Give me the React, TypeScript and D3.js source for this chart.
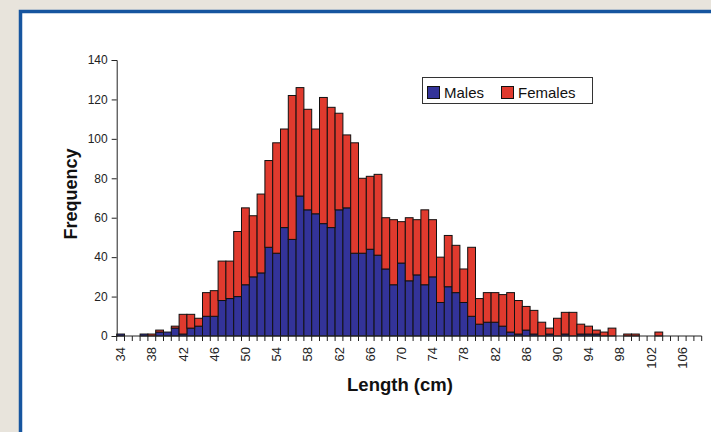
import React, { useRef, useEffect } from 'react'
import * as d3 from 'd3'

// length classes (cm), one bar each
const lengths: number[] = d3.range(34, 109)

const males: number[] = [
  1, 0, 0, 1, 0, 2, 2, 4, 1, 4,
  5, 10, 10, 18, 19, 20, 26, 30, 32, 45,
  42, 55, 49, 71, 64, 62, 57, 55, 64, 65,
  42, 42, 44, 41, 34, 26, 37, 28, 31, 26,
  30, 17, 25, 22, 17, 10, 6, 7, 7, 5,
  2, 1, 3, 1, 0, 1, 0, 1, 0, 1,
  1, 1, 0, 0, 0, 0, 0, 0, 0, 0,
  0, 0, 0, 0, 0
]

const females: number[] = [
  0, 0, 0, 0, 1, 1, 0, 1, 10, 7,
  4, 12, 13, 20, 19, 33, 39, 31, 40, 44,
  56, 50, 73, 55, 51, 43, 64, 61, 49, 37,
  56, 38, 37, 41, 26, 33, 21, 32, 28, 38,
  29, 23, 26, 24, 17, 35, 13, 15, 15, 16,
  20, 17, 12, 12, 7, 3, 9, 11, 12, 5,
  4, 2, 2, 4, 0, 1, 1, 0, 0, 2,
  0, 0, 0, 0, 0
]

const yTicks: number[] = [0, 20, 40, 60, 80, 100, 120, 140]
const xLabels: number[] = d3.range(34, 107, 4)

const seriesNames = ['Males', 'Females']
const colors = ['#333399', '#e03a2e']

const W = 711
const H = 432
const font = '"Liberation Sans", Arial, Helvetica, sans-serif'

function App() {
  const ref = useRef<SVGSVGElement>(null)

  useEffect(() => {
    const svg = d3.select(ref.current)
    svg.selectAll('*').remove()

    // backdrop + framed panel
    svg.append('rect').attr('width', W).attr('height', H).attr('fill', '#e8e4dc')
    svg.append('rect')
      .attr('x', 20.5).attr('y', 11.5)
      .attr('width', W + 20).attr('height', H + 20)
      .attr('fill', '#fff')
      .attr('stroke', '#16559f')
      .attr('stroke-width', 3.5)

    const x = d3.scaleBand<number>()
      .domain(lengths)
      .range([116.7, 701.7])
      .padding(0)

    const y = d3.scaleLinear()
      .domain([0, 140])
      .range([336, 60])

    const table = lengths.map((L, i) => ({ L, Males: males[i], Females: females[i] }))
    const stacked = d3.stack<any>().keys(seriesNames)(table)

    const g = svg.append('g')

    stacked.forEach((layer, k) => {
      g.append('g')
        .selectAll('rect')
        .data(layer.filter(d => d[1] - d[0] > 0))
        .join('rect')
        .attr('x', d => x(d.data.L)!)
        .attr('width', x.bandwidth())
        .attr('y', d => y(d[1]))
        .attr('height', d => y(d[0]) - y(d[1]))
        .attr('fill', colors[k])
        .attr('stroke', '#111')
        .attr('stroke-width', 1)
    })

    // y axis
    const yAxis = svg.append('g').attr('transform', 'translate(116.7,0)')
      .call(d3.axisLeft(y).tickValues(yTicks).tickSize(5).tickPadding(4))
    yAxis.select('.domain').attr('stroke', '#222')
    yAxis.selectAll('.tick line').attr('stroke', '#222')
    yAxis.selectAll('text').attr('font-family', font).attr('font-size', 12).attr('fill', '#222')

    // x axis: ticks at every class boundary
    const edges = lengths.map(L => x(L)!).concat([x.range()[1]])
    svg.append('line')
      .attr('x1', 116.7).attr('x2', 701.7)
      .attr('y1', 336).attr('y2', 336)
      .attr('stroke', '#222')
    svg.append('g')
      .selectAll('line')
      .data(edges)
      .join('line')
      .attr('x1', d => d).attr('x2', d => d)
      .attr('y1', 336).attr('y2', 341)
      .attr('stroke', '#222')

    svg.append('g')
      .selectAll('text')
      .data(xLabels)
      .join('text')
      .attr('transform', d => `translate(${x(d)! + x.bandwidth() / 2 + 4.5},347) rotate(-90)`)
      .attr('text-anchor', 'end')
      .attr('font-family', font)
      .attr('font-size', 13)
      .attr('fill', '#222')
      .text(d => d)

    // axis titles
    svg.append('text')
      .attr('transform', 'translate(77,194) rotate(-90)')
      .attr('text-anchor', 'middle')
      .attr('font-family', font)
      .attr('font-weight', 'bold')
      .attr('font-size', 18)
      .attr('fill', '#111')
      .text('Frequency')

    svg.append('text')
      .attr('x', 400).attr('y', 391)
      .attr('text-anchor', 'middle')
      .attr('font-family', font)
      .attr('font-weight', 'bold')
      .attr('font-size', 18.5)
      .attr('fill', '#111')
      .text('Length (cm)')

    // legend
    const lg = svg.append('g')
    lg.append('rect')
      .attr('x', 422.5).attr('y', 77.5)
      .attr('width', 170).attr('height', 26)
      .attr('fill', '#fff')
      .attr('stroke', '#333')
    const items = [
      { name: seriesNames[0], color: colors[0], x: 427 },
      { name: seriesNames[1], color: colors[1], x: 501 }
    ]
    items.forEach(it => {
      lg.append('rect')
        .attr('x', it.x + 0.5).attr('y', 86.5)
        .attr('width', 12).attr('height', 12)
        .attr('fill', it.color)
        .attr('stroke', '#111')
      lg.append('text')
        .attr('x', it.x + 17).attr('y', 98)
        .attr('font-family', font)
        .attr('font-size', 15)
        .attr('fill', '#111')
        .text(it.name)
    })
  }, [])

  return (
    <svg ref={ref} width={W} height={H} style={{ position: 'absolute', left: 0, top: 0 }} />
  )
}

export default App
